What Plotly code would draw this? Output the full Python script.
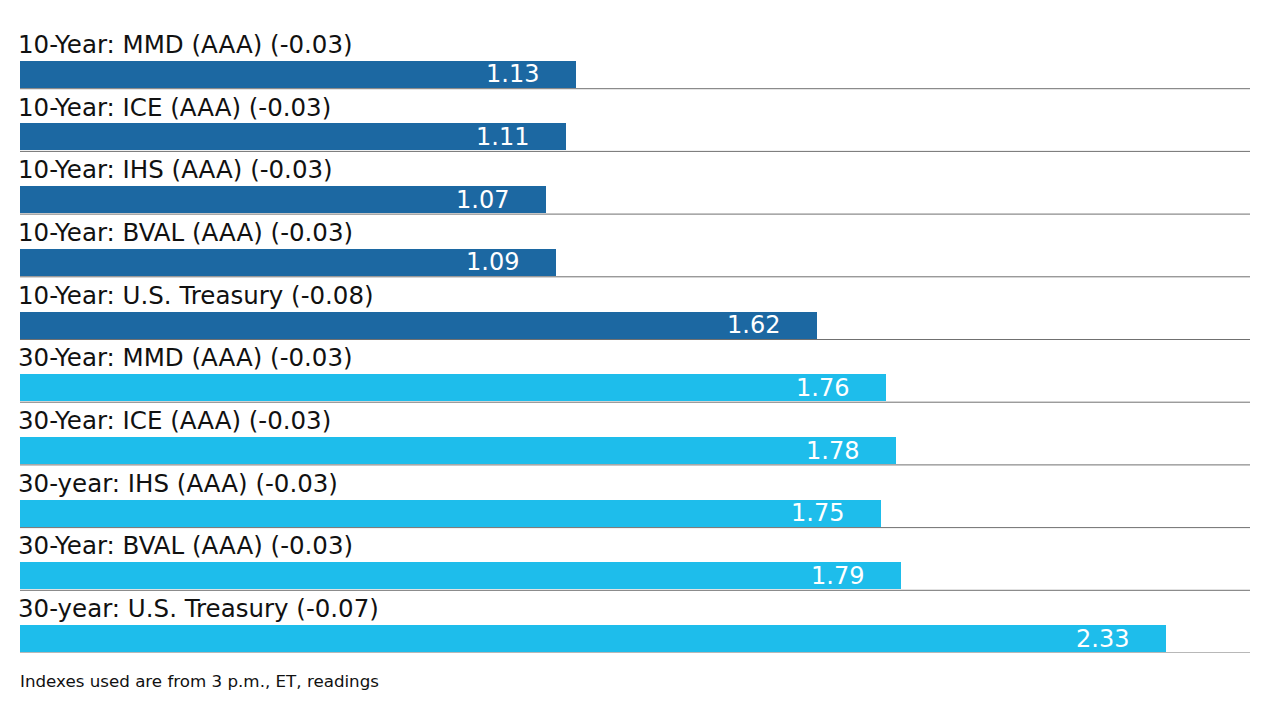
import plotly.graph_objects as go

categories = [
    "10-Year: MMD (AAA) (-0.03)",
    "10-Year: ICE (AAA) (-0.03)",
    "10-Year: IHS (AAA) (-0.03)",
    "10-Year: BVAL (AAA) (-0.03)",
    "10-Year: U.S. Treasury (-0.08)",
    "30-Year: MMD (AAA) (-0.03)",
    "30-Year: ICE (AAA) (-0.03)",
    "30-year: IHS (AAA) (-0.03)",
    "30-Year: BVAL (AAA) (-0.03)",
    "30-year: U.S. Treasury (-0.07)",
]
values = [1.13, 1.11, 1.07, 1.09, 1.62, 1.76, 1.78, 1.75, 1.79, 2.33]
value_labels = ["1.13", "1.11", "1.07", "1.09", "1.62", "1.76", "1.78", "1.75", "1.79", "2.33"]
groups = ["10", "10", "10", "10", "10", "30", "30", "30", "30", "30"]
footnote = "Indexes used are from 3 p.m., ET, readings"

color_map = {"10": "#1c68a2", "30": "#1ebdeb"}
colors = [color_map[g] for g in groups]

fig = go.Figure()
fig.add_trace(go.Bar(
    x=values,
    y=categories,
    orientation="h",
    marker=dict(color=colors, line=dict(width=0)),
    width=0.43,
    offset=0.054,
    hoverinfo="skip",
))

annotations = []
for i, (c, v, t) in enumerate(zip(categories, values, value_labels)):
    annotations.append(dict(
        x=0, y=c, xref="x", yref="y", text=c, showarrow=False,
        xanchor="left", yanchor="middle", yshift=13, xshift=-4,
        font=dict(family="DejaVu Sans", size=24.5, color="#111111"),
    ))
    annotations.append(dict(
        x=v, y=c, xref="x", yref="y", text=t, showarrow=False,
        xanchor="right", yanchor="middle", yshift=-17, xshift=-35,
        font=dict(family="DejaVu Sans", size=24, color="#ffffff"),
    ))
annotations.append(dict(
    x=0, y=-0.045, xref="paper", yref="paper", text=footnote, showarrow=False,
    xanchor="left", yanchor="middle", xshift=-2,
    font=dict(family="DejaVu Sans", size=16.7, color="#111111"),
))

shapes = []
for i in range(len(categories)):
    shapes.append(dict(
        type="line", xref="paper", yref="y", x0=0, x1=1, y0=i + 0.5, y1=i + 0.5,
        line=dict(color="#707070", width=1),
    ))

fig.update_layout(
    width=1280, height=720,
    margin=dict(l=12, r=38, t=18, b=75),
    paper_bgcolor="white", plot_bgcolor="white",
    showlegend=False,
    xaxis=dict(range=[0, 2.5], visible=False, fixedrange=True),
    yaxis=dict(range=[len(categories) - 0.5, -0.5], visible=False, type="category", fixedrange=True),
    annotations=annotations,
    shapes=shapes,
    bargap=0,
)

fig.write_html("out.html", config={"displayModeBar": False})
